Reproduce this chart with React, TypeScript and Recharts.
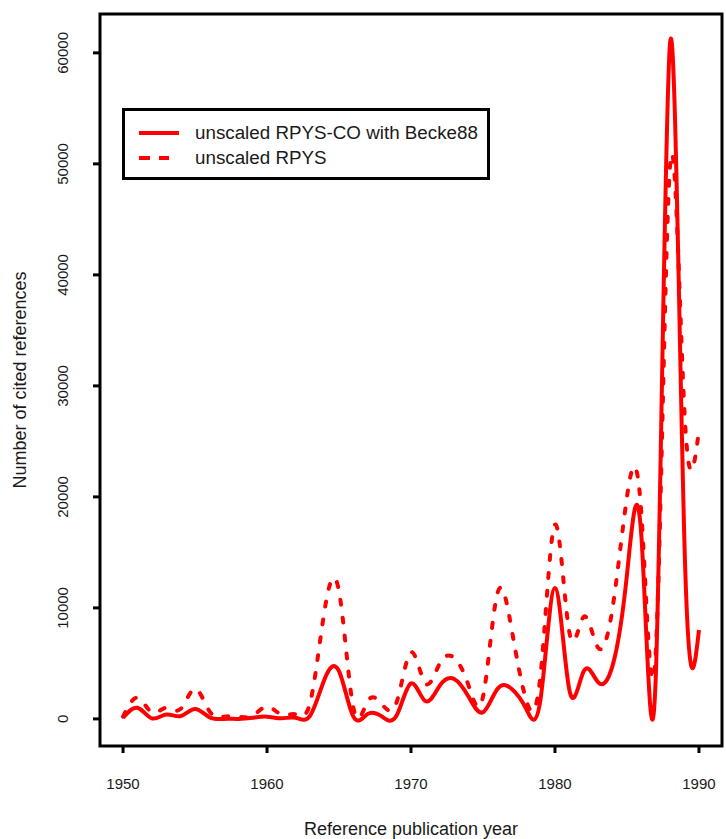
import { LineChart, Line, XAxis, YAxis, ReferenceArea, Legend } from 'recharts';

// Reference publication years (one point per year)
const years = [
  1950, 1951, 1952, 1953, 1954, 1955, 1956, 1957, 1958, 1959,
  1960, 1961, 1962, 1963, 1964, 1965, 1966, 1967, 1968, 1969,
  1970, 1971, 1972, 1973, 1974, 1975, 1976, 1977, 1978, 1979,
  1980, 1981, 1982, 1983, 1984, 1985, 1986, 1987, 1988, 1989,
  1990,
];

// unscaled RPYS-CO with Becke88 (solid)
const rpysCo = [
  100, 1000, 50, 400, 250, 900, 150, 0, 0, 100,
  200, 50, 100, 300, 3600, 4300, 200, 450, 200, 300,
  3200, 1600, 3000, 3600, 2000, 600, 2700, 2700, 900, 1800,
  11800, 2600, 4300, 3300, 4800, 13000, 16500, 3800, 61000, 15500,
  8000,
];

// unscaled RPYS (dashed)
const rpys = [
  200, 1900, 600, 1000, 900, 2700, 700, 200, 200, 300,
  1100, 400, 400, 1500, 9800, 11500, 1000, 1600, 1300, 1500,
  6000, 3200, 5000, 5500, 3000, 2000, 11300, 8000, 1700, 4000,
  17500, 7800, 9200, 6400, 10000, 20000, 18500, 6000, 50000, 27500,
  26000,
];

const xTicks = [1950, 1960, 1970, 1980, 1990];
const yTicks = [0, 10000, 20000, 30000, 40000, 50000, 60000];

const X_DOMAIN: [number, number] = [1948.4, 1991.6];
const Y_DOMAIN: [number, number] = [-2442, 63503];

const FONT = '"Liberation Sans", Arial, Helvetica, sans-serif';
const RED = '#ff0000';

const data = years.map((year, i) => ({ year, co: rpysCo[i], rpys: rpys[i] }));

function XTick({ x, y, payload }: any) {
  return (
    <text x={x} y={y + 34} textAnchor="middle" fontSize={15} fill="#1a1a1a" fontFamily={FONT}>
      {payload.value}
    </text>
  );
}

function YTick({ y, payload }: any) {
  return (
    <text
      x={63}
      y={y}
      transform={`rotate(-90, 63, ${y})`}
      textAnchor="middle"
      dominantBaseline="central"
      fontSize={15}
      fill="#1a1a1a"
      fontFamily={FONT}
    >
      {payload.value}
    </text>
  );
}

function LegendBox() {
  const row = (dash: string | undefined, x2: number, label: string) => (
    <div style={{ display: 'flex', alignItems: 'center', height: 25 }}>
      <svg width={60} height={10} style={{ flex: 'none' }}>
        <line x1={14} y1={5} x2={x2} y2={5} stroke={RED} strokeWidth={4} strokeDasharray={dash} strokeLinecap="butt" />
      </svg>
      <span style={{ marginLeft: 10, fontSize: 18.8, color: '#1a1a1a', fontFamily: FONT, whiteSpace: 'nowrap' }}>{label}</span>
    </div>
  );
  return (
    <div
      style={{
        boxSizing: 'border-box',
        width: 368,
        height: 72,
        border: '3px solid #000',
        background: '#fff',
        paddingTop: 9,
      }}
    >
      {row(undefined, 54, 'unscaled RPYS-CO with Becke88')}
      {row('11 9', 44, 'unscaled RPYS')}
    </div>
  );
}

export default function App() {
  return (
    <div style={{ position: 'absolute', left: 0, top: 0, width: 726, height: 839, background: '#fff' }}>
      <LineChart width={726} height={839} data={data} margin={{ top: 14, right: 4, left: 0, bottom: 0 }}>
        <XAxis
          dataKey="year"
          type="number"
          domain={X_DOMAIN}
          ticks={xTicks}
          allowDataOverflow
          height={93}
          axisLine={false}
          tickSize={7}
          tickLine={{ stroke: '#000', strokeWidth: 3 }}
          tick={<XTick />}
          label={{ value: 'Reference publication year', position: 'insideBottom', offset: 4, fontSize: 18, fill: '#1a1a1a', fontFamily: FONT }}
        />
        <YAxis
          type="number"
          domain={Y_DOMAIN}
          ticks={yTicks}
          allowDataOverflow
          width={100}
          axisLine={false}
          tickSize={7}
          tickLine={{ stroke: '#000', strokeWidth: 3 }}
          tick={<YTick />}
          label={{ value: 'Number of cited references', angle: -90, position: 'insideLeft', offset: 20, fontSize: 18, fill: '#1a1a1a', fontFamily: FONT, style: { textAnchor: 'middle' } }}
        />
        <Line
          type="natural"
          dataKey="rpys"
          stroke={RED}
          strokeWidth={4}
          strokeDasharray="5 13"
          strokeLinecap="round"
          dot={false}
          isAnimationActive={false}
          legendType="none"
        />
        <Line
          type="natural"
          dataKey="co"
          stroke={RED}
          strokeWidth={4}
          dot={false}
          isAnimationActive={false}
          legendType="none"
        />
        <ReferenceArea
          x1={X_DOMAIN[0]}
          x2={X_DOMAIN[1]}
          y1={Y_DOMAIN[0]}
          y2={Y_DOMAIN[1]}
          fill="none"
          stroke="#000"
          strokeWidth={3}
          ifOverflow="visible"
        />
        <Legend
          layout="horizontal"
          verticalAlign="middle"
          align="center"
          content={<LegendBox />}
          wrapperStyle={{ left: 122, top: 108, width: 368, height: 72 }}
        />
      </LineChart>
    </div>
  );
}
